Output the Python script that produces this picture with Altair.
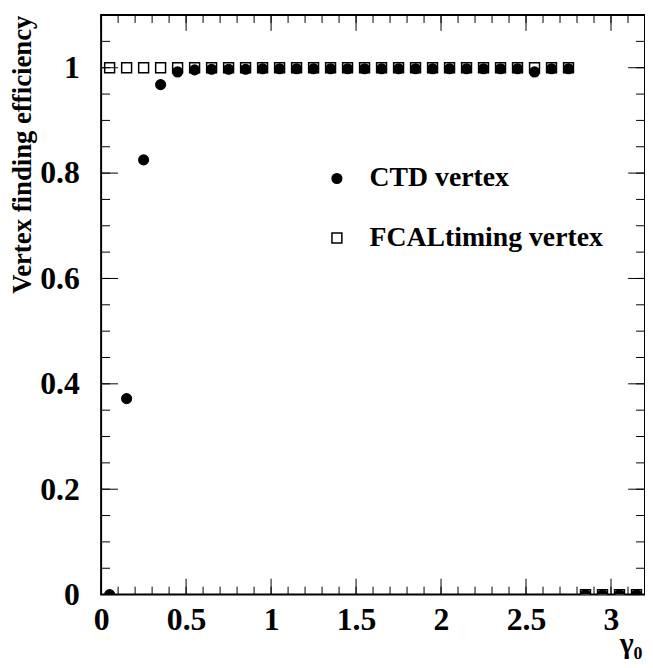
import altair as alt
import pandas as pd

# ---- data ----
x_bins = [0.05, 0.15, 0.25, 0.35, 0.45, 0.55, 0.65, 0.75, 0.85, 0.95,
          1.05, 1.15, 1.25, 1.35, 1.45, 1.55, 1.65, 1.75, 1.85, 1.95,
          2.05, 2.15, 2.25, 2.35, 2.45, 2.55, 2.65, 2.75, 2.85, 2.95,
          3.05, 3.15]
ctd_eff = [0.0, 0.372, 0.825, 0.968, 0.992, 0.996, 0.997, 0.997, 0.997, 0.998,
           0.998, 0.998, 0.998, 0.998, 0.998, 0.998, 0.998, 0.998, 0.998, 0.998,
           0.998, 0.998, 0.998, 0.998, 0.998, 0.992, 0.998, 0.998, 0.0, 0.0,
           0.0, 0.0]
fcal_eff = [1.0, 1.0, 1.0, 1.0, 1.0, 1.0, 1.0, 1.0, 1.0, 1.0,
            1.0, 1.0, 1.0, 1.0, 1.0, 1.0, 1.0, 1.0, 1.0, 1.0,
            1.0, 1.0, 1.0, 1.0, 1.0, 1.0, 1.0, 1.0, 0.0, 0.0,
            0.0, 0.0]
series_names = ["CTD vertex", "FCALtiming vertex"]

x_label_values = [0, 0.5, 1, 1.5, 2, 2.5, 3]
y_label_values = [0, 0.2, 0.4, 0.6, 0.8, 1]
x_minor_ticks = [round(0.1 * i, 1) for i in range(1, 32)]
y_minor_ticks = [round(0.05 * i, 2) for i in range(1, 22)]

W, H = 549, 585
FONT = "Liberation Serif"

# FCAL first so CTD circles are drawn on top
points_df = pd.DataFrame({
    "x": x_bins + x_bins,
    "eff": fcal_eff + ctd_eff,
    "series": [series_names[1]] * len(x_bins) + [series_names[0]] * len(x_bins),
})

xs = alt.Scale(domain=[0, 3.2], nice=False, zero=False)
ys = alt.Scale(domain=[0, 1.1], nice=False, zero=False)

leg = alt.Legend(
    title=None, orient="none", legendX=224, legendY=151,
    labelFont=FONT, labelFontSize=28, labelFontWeight="bold", labelColor="black",
    labelOffset=19, labelLimit=0, rowPadding=32, padding=0, symbolStrokeWidth=1.5,
)

points = alt.Chart(points_df).mark_point(clip=True, opacity=1, strokeWidth=1.5).encode(
    x=alt.X("x:Q", scale=xs, axis=alt.Axis(
        values=x_label_values, format="~g", ticks=False, tickSize=0, domain=False, grid=False,
        labelFont=FONT, labelFontSize=32, labelFontWeight="bold", labelColor="black",
        labelPadding=10, labelFlush=False,
        title="γ₀", titleFont=FONT, titleFontSize=30, titleFontWeight="bold", titleColor="black",
        titleX=W - 3, titleY=58, titleAlign="right", titleBaseline="alphabetic")),
    y=alt.Y("eff:Q", scale=ys, axis=alt.Axis(
        values=y_label_values, format="~g", ticks=False, tickSize=0, domain=False, grid=False,
        labelFont=FONT, labelFontSize=32, labelFontWeight="bold", labelColor="black",
        labelPadding=22, labelFlush=False,
        title="Vertex finding efficiency", titleFont=FONT, titleFontSize=27,
        titleFontWeight="bold", titleColor="black", titleAngle=270,
        titleX=-79, titleY=0, titleAlign="right", titleBaseline="middle")),
    shape=alt.Shape("series:N", scale=alt.Scale(domain=series_names, range=["circle", "square"]), legend=leg),
    fill=alt.Fill("series:N", scale=alt.Scale(domain=series_names, range=["black", "white"]), legend=leg),
    stroke=alt.Stroke("series:N", scale=alt.Scale(domain=series_names, range=["black", "black"]), legend=leg),
    size=alt.Size("series:N", scale=alt.Scale(domain=series_names, range=[95, 100]), legend=leg),
)


def xticks(values, side, length):
    df = pd.DataFrame({"x": values})
    if side == "bottom":
        yv, y2v = H, H - length
    else:
        yv, y2v = 0, length
    return alt.Chart(df).mark_rule(color="black", strokeWidth=1).encode(
        x=alt.X("x:Q", scale=xs), y=alt.value(yv), y2=alt.value(y2v))


def yticks(values, side, length):
    df = pd.DataFrame({"eff": values})
    if side == "left":
        xv, x2v = 0, length
    else:
        xv, x2v = W, W - length
    return alt.Chart(df).mark_rule(color="black", strokeWidth=1).encode(
        y=alt.Y("eff:Q", scale=ys), x=alt.value(xv), x2=alt.value(x2v))


layers = [points,
          xticks(x_minor_ticks, "bottom", 8), xticks(x_label_values, "bottom", 16),
          xticks(x_minor_ticks, "top", 8), xticks(x_label_values, "top", 16),
          yticks(y_minor_ticks, "left", 9), yticks(y_label_values, "left", 17),
          yticks(y_minor_ticks, "right", 9), yticks(y_label_values, "right", 17)]

chart = alt.layer(*layers).properties(
    width=W, height=H,
    autosize=alt.AutoSizeParams(type="none"),
    padding={"left": 94, "top": 4, "right": 0, "bottom": 70},
    background="white",
).configure_view(stroke="black", strokeWidth=2)

chart.save("out.html", embed_options={"renderer": "svg", "actions": False})
